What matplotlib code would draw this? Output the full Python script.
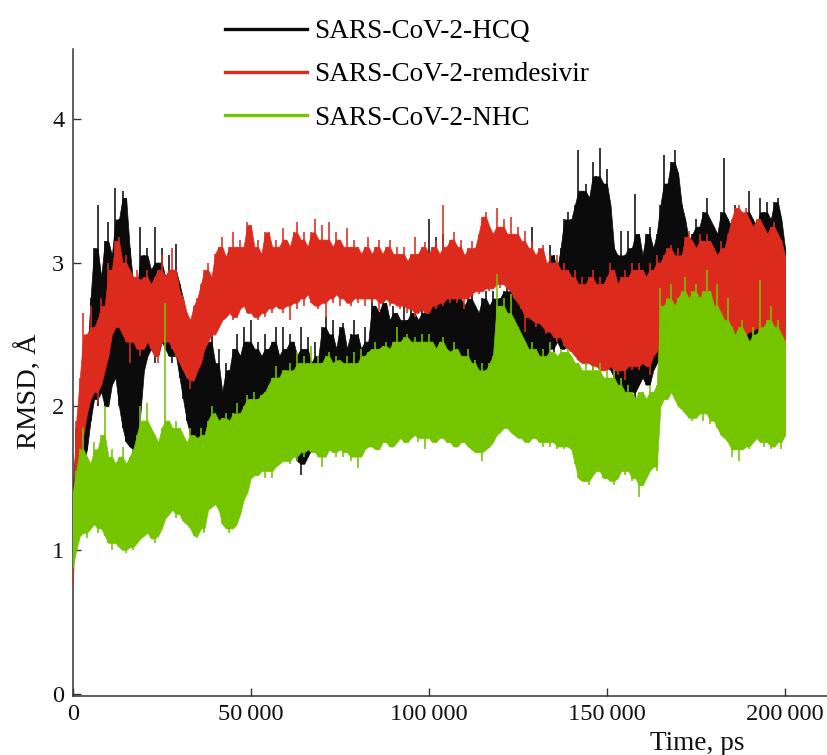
import numpy as np
import matplotlib
matplotlib.use('Agg')
import matplotlib.pyplot as plt
from matplotlib.lines import Line2D

plt.rcParams['font.family'] = ['Liberation Serif', 'DejaVu Serif']

# ---------------- data ----------------
series_names = ['SARS-CoV-2-HCQ', 'SARS-CoV-2-remdesivir', 'SARS-CoV-2-NHC']
time_ps = np.arange(0, 200001, 1000)

# upper (top) and lower (bot) extent of each dense RMSD trace, every 1000 ps
hcq_top = [1.40, 1.85, 2.10, 2.40, 2.30, 2.75, 3.10, 3.40, 2.90, 3.15,
           3.28, 3.05, 3.52, 3.30, 3.50, 3.45, 3.10, 2.85, 2.80, 3.25,
           3.05, 3.10, 2.95, 3.25, 3.00, 3.10, 2.90, 3.05, 2.95, 3.13,
           2.85, 2.75, 2.60, 2.50, 2.40, 2.55, 2.35, 2.55, 2.45, 2.55,
           2.30, 2.40, 2.10, 2.30, 2.25, 2.40, 2.50, 2.35, 2.55, 2.45,
           2.60, 2.40, 2.45, 2.35, 2.50, 2.40, 2.45, 2.55, 2.35, 2.55,
           2.40, 2.50, 2.45, 2.35, 2.55, 2.40, 2.48, 2.30, 2.45, 2.35,
           2.55, 2.62, 2.50, 2.60, 2.40, 2.55, 2.58, 2.40, 2.50, 2.60,
           2.50, 2.40, 2.55, 2.45, 2.75, 2.70, 2.65, 2.75, 2.72, 2.60,
           2.70, 2.65, 2.60, 2.75, 2.60, 2.75, 2.65, 2.60, 2.70, 2.65,
           3.30, 2.90, 3.18, 3.05, 3.20, 2.90, 2.85, 2.75, 2.80, 2.75,
           2.70, 2.75, 2.80, 2.70, 2.65, 2.75, 2.80, 2.70, 2.80, 2.75,
           2.75, 2.80, 2.85, 2.80, 2.75, 2.85, 2.95, 2.90, 3.00, 3.25,
           2.95, 3.00, 3.05, 2.95, 3.12, 3.05, 2.95, 3.10, 3.30, 3.35,
           3.30, 3.40, 3.78, 3.50, 3.55, 3.45, 3.70, 3.60, 3.80, 3.55,
           3.65, 3.40, 3.10, 3.05, 3.22, 3.05, 3.22, 3.10, 3.48, 3.20,
           3.05, 3.20, 3.25, 3.10, 3.20, 3.40, 3.75, 3.55, 3.70, 3.78,
           3.62, 3.40, 3.30, 3.15, 3.20, 3.30, 3.25, 3.35, 3.45, 3.30,
           3.25, 3.20, 3.35, 3.73, 3.30, 3.25, 3.40, 3.30, 3.25, 3.35,
           3.50, 3.30, 3.25, 3.45, 3.35, 3.42, 3.30, 3.42, 3.45, 3.30,
           3.10]
hcq_bot = [0.80, 1.40, 1.45, 1.60, 1.70, 1.90, 2.05, 2.00, 2.10, 2.00,
           2.00, 2.15, 2.20, 2.00, 1.85, 1.75, 1.72, 1.65, 1.70, 1.95,
           2.25, 2.35, 2.40, 2.30, 2.35, 2.45, 2.40, 2.35, 2.30, 2.35,
           2.20, 2.05, 1.90, 1.80, 1.75, 1.65, 1.70, 1.75, 1.72, 1.70,
           1.65, 1.62, 1.60, 1.56, 1.60, 1.65, 1.70, 1.62, 1.75, 1.72,
           1.85, 1.80, 1.75, 1.78, 1.72, 1.75, 1.80, 1.72, 1.78, 1.75,
           1.75, 1.70, 1.68, 1.62, 1.52, 1.60, 1.65, 1.70, 1.72, 1.68,
           1.75, 1.78, 1.80, 1.75, 1.78, 1.80, 1.85, 1.78, 1.80, 1.82,
           1.85, 1.88, 1.90, 1.85, 1.95, 1.90, 1.90, 1.95, 1.95, 1.92,
           2.00, 2.02, 2.05, 2.00, 2.05, 2.08, 2.10, 2.05, 2.10, 2.12,
           2.15, 2.18, 2.20, 2.15, 2.15, 2.18, 2.20, 2.15, 2.15, 2.12,
           2.10, 2.12, 2.15, 2.10, 2.10, 2.15, 2.20, 2.18, 2.25, 2.28,
           2.30, 2.28, 2.25, 2.30, 2.30, 2.28, 2.25, 2.30, 2.30, 2.32,
           2.35, 2.30, 2.30, 2.35, 2.40, 2.38, 2.45, 2.40, 2.40, 2.42,
           2.45, 2.48, 2.50, 2.45, 2.45, 2.50, 2.50, 2.45, 2.40, 2.35,
           2.30, 2.25, 2.20, 2.15, 2.15, 2.10, 2.05, 2.10, 2.05, 2.15,
           2.20, 2.15, 2.15, 2.25, 2.30, 2.35, 2.40, 2.50, 2.55, 2.58,
           2.60, 2.62, 2.65, 2.68, 2.70, 2.68, 2.65, 2.68, 2.70, 2.68,
           2.65, 2.62, 2.60, 2.55, 2.50, 2.45, 2.40, 2.38, 2.35, 2.38,
           2.45, 2.48, 2.50, 2.52, 2.55, 2.58, 2.60, 2.65, 2.70, 2.60,
           2.55]

rem_top = [1.30, 1.90, 2.20, 2.65, 2.50, 2.70, 2.55, 2.60, 2.75, 2.70,
           3.00, 2.95, 3.15, 3.18, 3.00, 3.05, 2.95, 2.90, 2.95, 2.88,
           2.90, 2.95, 2.85, 2.90, 2.95, 3.05, 2.90, 2.95, 3.10, 2.95,
           2.80, 2.75, 2.65, 2.60, 2.70, 2.75, 2.85, 2.95, 3.00, 2.90,
           3.06, 3.11, 3.18, 3.04, 3.11, 3.21, 3.11, 3.16, 3.11, 3.28,
           3.26, 3.11, 3.16, 3.06, 3.21, 3.21, 3.11, 3.16, 3.11, 3.24,
           3.16, 3.11, 3.21, 3.28, 3.16, 3.21, 3.11, 3.21, 3.30, 3.16,
           3.26, 3.16, 3.28, 3.11, 3.21, 3.16, 3.11, 3.24, 3.11, 3.16,
           3.11, 3.06, 3.11, 3.18, 3.06, 3.11, 3.16, 3.06, 3.11, 3.16,
           3.06, 3.11, 3.06, 3.11, 3.01, 3.06, 3.18, 3.06, 3.11, 3.14,
           3.06, 3.11, 3.16, 3.06, 3.40, 3.11, 3.16, 3.21, 3.11, 3.16,
           3.05, 3.10, 3.15, 3.10, 3.20, 3.32, 3.35, 3.25, 3.20, 3.38,
           3.25, 3.30, 3.20, 3.32, 3.20, 3.25, 3.15, 3.22, 3.10, 3.15,
           3.05, 3.10, 3.12, 3.00, 3.05, 3.00, 3.05, 2.95, 3.00, 2.95,
           2.90, 2.95, 2.85, 2.90, 2.85, 2.90, 2.95, 2.85, 2.90, 2.85,
           2.90, 3.00, 2.95, 2.85, 2.90, 2.95, 2.90, 3.00, 2.95, 3.00,
           2.95, 2.90, 3.00, 2.95, 3.05, 3.00, 3.05, 3.10, 3.12, 3.05,
           3.10, 3.05, 3.18, 3.22, 3.15, 3.10, 3.20, 3.15, 3.20, 3.15,
           3.10, 3.05, 3.15, 3.10, 3.20, 3.30, 3.38, 3.40, 3.35, 3.38,
           3.30, 3.25, 3.30, 3.30, 3.25, 3.20, 3.25, 3.28, 3.20, 3.15,
           3.05]
rem_bot = [0.75, 1.40, 1.55, 1.80, 1.95, 2.05, 2.10, 2.02, 2.15, 2.25,
           2.35, 2.50, 2.55, 2.55, 2.50, 2.45, 2.30, 2.45, 2.40, 2.35,
           2.40, 2.45, 2.40, 2.35, 2.30, 2.45, 2.40, 2.45, 2.40, 2.35,
           2.30, 2.25, 2.20, 2.12, 2.18, 2.25, 2.30, 2.40, 2.45, 2.50,
           2.50, 2.55, 2.60, 2.62, 2.65, 2.60, 2.62, 2.68, 2.70, 2.65,
           2.65, 2.62, 2.60, 2.65, 2.62, 2.68, 2.65, 2.70, 2.68, 2.65,
           2.70, 2.60, 2.72, 2.68, 2.75, 2.70, 2.78, 2.72, 2.70, 2.68,
           2.72, 2.62, 2.75, 2.72, 2.78, 2.70, 2.75, 2.72, 2.70, 2.75,
           2.72, 2.75, 2.70, 2.75, 2.72, 2.75, 2.66, 2.72, 2.75, 2.70,
           2.72, 2.70, 2.68, 2.70, 2.65, 2.68, 2.62, 2.65, 2.68, 2.65,
           2.65, 2.70, 2.68, 2.72, 2.70, 2.75, 2.72, 2.75, 2.72, 2.75,
           2.68, 2.75, 2.78, 2.80, 2.78, 2.80, 2.82, 2.80, 2.82, 2.85,
           2.82, 2.85, 2.82, 2.80, 2.75, 2.72, 2.68, 2.52, 2.62, 2.60,
           2.55, 2.58, 2.55, 2.50, 2.52, 2.48, 2.45, 2.48, 2.42, 2.40,
           2.38, 2.35, 2.32, 2.30, 2.28, 2.30, 2.25, 2.28, 2.15, 2.25,
           2.25, 2.28, 2.25, 2.22, 2.25, 2.18, 2.28, 2.25, 2.28, 2.25,
           2.30, 2.28, 2.22, 2.35, 2.38, 2.45, 2.48, 2.50, 2.52, 2.50,
           2.48, 2.52, 2.55, 2.52, 2.50, 2.55, 2.52, 2.55, 2.50, 2.55,
           2.55, 2.52, 2.55, 2.50, 2.45, 2.50, 2.52, 2.50, 2.48, 2.50,
           2.52, 2.50, 2.55, 2.50, 2.48, 2.50, 2.45, 2.40, 2.35, 2.20,
           2.40]

nhc_top = [1.40, 1.55, 1.70, 1.85, 1.65, 1.60, 1.75, 1.70, 1.80, 2.00,
           1.65, 1.70, 1.60, 1.65, 1.72, 1.60, 1.65, 1.70, 1.80, 2.00,
           1.90, 2.02, 1.85, 1.80, 1.75, 1.85, 2.72, 1.90, 1.85, 1.90,
           1.85, 1.80, 1.75, 1.85, 1.80, 1.78, 1.85, 1.80, 1.90, 2.00,
           1.95, 1.90, 1.92, 1.95, 1.90, 1.95, 2.02, 1.95, 2.00, 2.08,
           2.05, 2.10, 2.05, 2.08, 2.10, 2.15, 2.20, 2.28, 2.20, 2.25,
           2.25, 2.30, 2.25, 2.38, 2.30, 2.35, 2.30, 2.42, 2.30, 2.35,
           2.30, 2.35, 2.38, 2.30, 2.35, 2.32, 2.30, 2.35, 2.30, 2.38,
           2.30, 2.40, 2.35, 2.38, 2.40, 2.45, 2.40, 2.42, 2.45, 2.40,
           2.45, 2.55, 2.45, 2.48, 2.50, 2.45, 2.48, 2.45, 2.50, 2.45,
           2.50, 2.45, 2.40, 2.45, 2.48, 2.40, 2.38, 2.45, 2.40, 2.35,
           2.35, 2.40, 2.30, 2.32, 2.25, 2.30, 2.25, 2.30, 2.35, 2.92,
           2.70, 2.75, 2.65, 2.78, 2.60, 2.55, 2.50, 2.45, 2.40, 2.45,
           2.40, 2.35, 2.40, 2.35, 2.45, 2.38, 2.35, 2.40, 2.38, 2.40,
           2.35, 2.30, 2.30, 2.25, 2.30, 2.25, 2.28, 2.25, 2.30, 2.20,
           2.25, 2.20, 2.25, 2.15, 2.20, 2.10, 2.15, 2.10, 2.05, 2.10,
           2.10, 2.05, 2.15, 2.10, 2.15, 2.82, 2.70, 2.75, 2.85, 2.70,
           2.75, 2.80, 2.90, 2.75, 2.80, 2.85, 2.75, 2.80, 2.95, 2.80,
           2.70, 2.85, 2.65, 2.60, 2.75, 2.55, 2.50, 2.55, 2.60, 2.50,
           2.45, 2.55, 2.50, 2.88, 2.55, 2.60, 2.70, 2.55, 2.60, 2.50,
           2.45]
nhc_bot = [0.88, 1.00, 1.10, 1.12, 1.08, 1.15, 1.18, 1.12, 1.15, 1.10,
           1.05, 1.00, 1.05, 1.02, 1.00, 0.98, 1.02, 1.00, 1.05, 1.08,
           1.10, 1.12, 1.08, 1.05, 1.10, 1.15, 1.22, 1.25, 1.28, 1.22,
           1.25, 1.20, 1.18, 1.15, 1.10, 1.08, 1.15, 1.12, 1.28, 1.30,
           1.32, 1.28, 1.18, 1.15, 1.12, 1.15, 1.18, 1.25, 1.35, 1.40,
           1.50, 1.52, 1.52, 1.55, 1.50, 1.55, 1.50, 1.58, 1.60, 1.62,
           1.62, 1.60, 1.65, 1.62, 1.68, 1.65, 1.70, 1.68, 1.68, 1.65,
           1.58, 1.65, 1.70, 1.68, 1.65, 1.70, 1.65, 1.68, 1.62, 1.65,
           1.57, 1.65, 1.70, 1.72, 1.72, 1.70, 1.70, 1.75, 1.75, 1.72,
           1.72, 1.75, 1.78, 1.75, 1.75, 1.78, 1.80, 1.75, 1.78, 1.70,
           1.78, 1.75, 1.75, 1.78, 1.78, 1.75, 1.75, 1.72, 1.72, 1.75,
           1.75, 1.72, 1.70, 1.68, 1.68, 1.62, 1.70, 1.72, 1.75, 1.80,
           1.82, 1.85, 1.85, 1.82, 1.80, 1.78, 1.78, 1.75, 1.75, 1.78,
           1.78, 1.75, 1.72, 1.75, 1.72, 1.75, 1.70, 1.72, 1.70, 1.72,
           1.70, 1.60, 1.50, 1.48, 1.48, 1.45, 1.52, 1.55, 1.55, 1.50,
           1.50, 1.48, 1.45, 1.50, 1.55, 1.52, 1.55, 1.48, 1.50, 1.37,
           1.45, 1.50, 1.55, 1.58, 1.55, 2.00, 2.05, 2.05, 2.10, 2.05,
           2.00, 1.98, 1.95, 1.92, 1.90, 1.92, 1.95, 1.90, 1.95, 1.88,
           1.90, 1.85, 1.80, 1.78, 1.75, 1.65, 1.70, 1.62, 1.70, 1.72,
           1.70, 1.75, 1.78, 1.75, 1.72, 1.75, 1.70, 1.72, 1.75, 1.70,
           1.80]

x_ticks = [0, 50000, 100000, 150000, 200000]
x_tick_labels = ['0', '50\u2009000', '100\u2009000', '150\u2009000', '200\u2009000']
y_ticks = [0, 1, 2, 3, 4]
colors = ['#0b0b0b', '#dc2b1d', '#74c400']

# ---------------- figure ----------------
W, H = 828, 755
fig = plt.figure(figsize=(W / 100, H / 100), dpi=100)
ax_left, ax_right, ax_top, ax_bottom = 72.7, 828, 49, 695.5
ax = fig.add_axes([ax_left / W, (H - ax_bottom) / H,
                   (ax_right - ax_left) / W, (ax_bottom - ax_top) / H])
ax.set_xlim(0, 212070)
ax.set_ylim(-0.0125, 4.486)


def median3(values):
    v = np.asarray(values, dtype=float)
    prev_v = np.r_[v[0], v[:-1]]
    next_v = np.r_[v[1:], v[-1]]
    return np.median(np.vstack([prev_v, v, next_v]), axis=0)


def draw_trace(top, bot, color, z):
    top = np.asarray(top, dtype=float)
    bot = np.asarray(bot, dtype=float)
    core_top = np.minimum(median3(top), top)
    core_bot = np.maximum(median3(bot), bot)
    ax.fill_between(time_ps, core_bot, core_top, facecolor=color,
                    edgecolor=color, linewidth=0.5, zorder=z)
    ax.vlines(time_ps, bot, top, colors=color, linewidth=1.15, zorder=z)


draw_trace(hcq_top, hcq_bot, colors[0], 2)
draw_trace(rem_top, rem_bot, colors[1], 3)
draw_trace(nhc_top, nhc_bot, colors[2], 4)

for s in ['top', 'right']:
    ax.spines[s].set_visible(False)
for s in ['left', 'bottom']:
    ax.spines[s].set_color('#333333')
    ax.spines[s].set_linewidth(1.1)

ax.set_xticks(x_ticks)
ax.set_xticklabels(x_tick_labels)
ax.set_yticks(y_ticks)
ax.tick_params(direction='in', length=6, width=1.0, color='#333333',
               labelsize=17.6, pad=6, labelcolor='#111111')

ax.set_ylabel('RMSD, Å', fontsize=20.5, va='center', color='#111111')
ax.yaxis.set_label_coords(-0.058, 0.47)
ax.set_xlabel('Time, ps', fontsize=19.6, va='center', color='#111111')
ax.xaxis.set_label_coords(0.8266, -0.0735)

handles = [Line2D([], [], color=c, linewidth=2.4) for c in colors]
ax.legend(handles, series_names, loc='upper left',
          bbox_to_anchor=(225 / W, 1 - 19 / H), bbox_transform=fig.transFigure,
          frameon=False, fontsize=19.6, handlelength=3.0, handletextpad=0.26,
          labelspacing=0.67, borderpad=0, borderaxespad=0)

fig.savefig('out.png', dpi=100)
